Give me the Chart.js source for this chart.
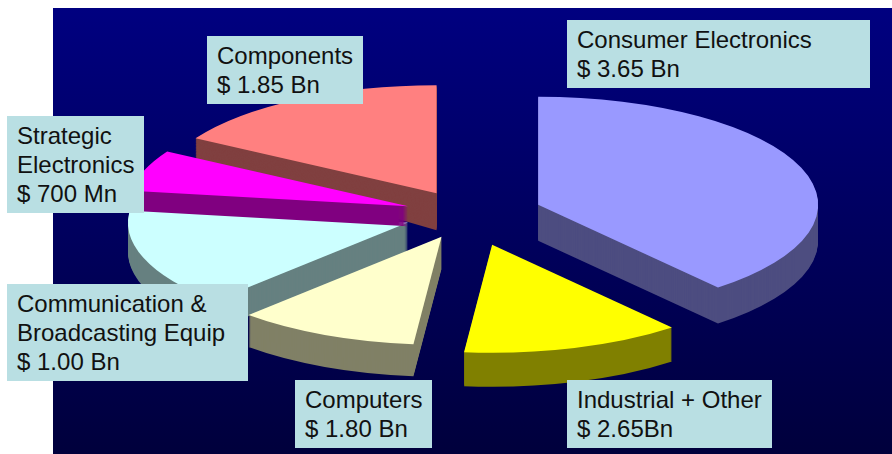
<!DOCTYPE html>
<html>
<head>
<meta charset="utf-8">
<title>Electronics market</title>
<script src="https://cdn.jsdelivr.net/npm/chart.js@4"></script>
<style>
  html, body { margin: 0; background: #fff; }
  #wrap { position: relative; width: 892px; height: 454px; overflow: hidden; }
  #panel { position: absolute; left: 53px; top: 8px; right: 0; bottom: 0;
           background: linear-gradient(#000080, #00003c); }
  #pie { position: absolute; left: 0; top: 0; }
  .box { position: absolute; box-sizing: border-box; background: #b9dfe3; color: #111;
         font: 24px/29px "Liberation Sans", Arial, sans-serif; padding: 5px 0 0 10px; white-space: nowrap; }
</style>
</head>
<body>
<div id="wrap">
  <div id="panel"></div>
  <canvas id="pie" width="892" height="454"></canvas>
</div>
<script>
// names and amounts as printed on the callouts
const categorias = ['Consumer Electronics', 'Industrial + Other', 'Computers',
  'Communication & Broadcasting Equip', 'Strategic Electronics', 'Components'];
const textos = [
  ['Consumer Electronics', '$ 3.65 Bn'],
  ['Industrial + Other', '$ 2.65Bn'],
  ['Computers', '$ 1.80 Bn'],
  ['Communication &', 'Broadcasting Equip', '$ 1.00 Bn'],
  ['Strategic', 'Electronics', '$ 700 Mn'],
  ['Components', '$ 1.85 Bn']
];
// slice shares (%) as drawn in the picture, they do not follow the printed amounts
const porcentajes = [38.9, 12.7, 10.5, 15.2, 6.2, 16.5];

const coloresTapa = ['#9999ff', '#ffff00', '#ffffcc', '#ccffff', '#ff00ff', '#ff8080'];
const coloresPared = ['#4d4d80', '#808000', '#808066', '#668080', '#800080', '#804040'];
const separacion = [40, 44, 34, 34, 34, 34];
const profundidad = [36, 34, 32, 29, 20, 37];
const inclinacion = [0, 0, 0, 0, 0, 0.062];
const ordenDibujo = [5, 3, 4, 0, 2, 1];
const cajas = [
  [567, 20, 303, 68], [567, 380, 205, 68], [295, 380, 137, 68],
  [7, 284, 241, 97], [7, 116, 137, 97], [207, 36, 156, 68]
];
const RX = 280, RY = 108;

cajas.forEach((c, i) => {
  const div = document.createElement('div');
  div.className = 'box';
  div.style.cssText = `left:${c[0]}px;top:${c[1]}px;width:${c[2]}px;height:${c[3]}px`;
  div.innerHTML = textos[i].map(t => t.replace('&', '&amp;')).join('<br>');
  document.getElementById('wrap').appendChild(div);
});

// draws the arcs as tilted discs: each ArcElement is repeated downwards for the wall
const pie3d = {
  id: 'pie3d',
  beforeDatasetDraw(chart, args) {
    const ctx = chart.ctx;
    const arcs = args.meta.data;
    ordenDibujo.forEach(i => {
      const el = arcs[i];
      const sx = RX / el.outerRadius, sy = RY / el.outerRadius;
      const medio = (el.startAngle + el.endAngle) / 2;
      const px = el.x + Math.cos(medio) * separacion[i] * sx;
      const py = el.y + Math.sin(medio) * separacion[i] * sy;
      const opts = el.options;
      const pintar = (color, dy, slant) => {
        el.options = Object.create(opts);
        el.options.offset = 0;
        el.options.backgroundColor = color;
        ctx.save();
        ctx.translate(px, py + dy);
        ctx.transform(1, slant, 0, 1, 0, 0);
        ctx.scale(sx, sy);
        ctx.translate(-el.x, -el.y);
        el.draw(ctx);
        ctx.restore();
      };
      for (let d = profundidad[i]; d > 0; d--) {
        pintar(coloresPared[i], d, inclinacion[i] * d / profundidad[i]);
      }
      pintar(coloresTapa[i], 0, 0);
      el.options = opts;
    });
    return false;
  }
};

new Chart(document.getElementById('pie').getContext('2d'), {
  type: 'pie',
  data: {
    labels: categorias,
    datasets: [{
      data: porcentajes,
      backgroundColor: coloresTapa,
      borderWidth: 0,
      offset: separacion
    }]
  },
  options: {
    responsive: false,
    animation: false,
    radius: 150,
    layout: { padding: { left: 44, bottom: 25 } },
    plugins: { legend: { display: false }, tooltip: { enabled: false } }
  },
  plugins: [pie3d]
});
</script>
</body>
</html>
